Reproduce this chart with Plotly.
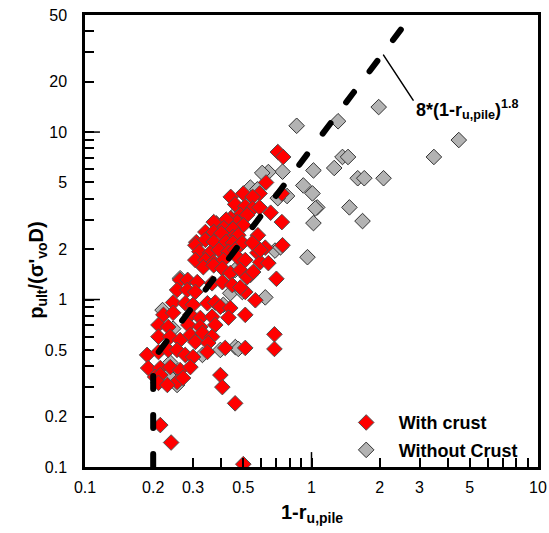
import plotly.graph_objects as go

# "With crust" points (1-r_u,pile , p_ult/(sigma'_vo D))
red_x = [0.71, 0.75, 0.63, 0.44, 0.50, 0.59, 0.55, 0.74,
         0.46, 0.51, 0.55, 0.59, 0.66, 0.74, 0.485, 0.52,
         0.44, 0.47, 0.38, 0.42, 0.37, 0.41, 0.50, 0.45,
         0.34, 0.37, 0.40, 0.58, 0.45, 0.475, 0.31, 0.34,
         0.37, 0.42, 0.45, 0.495, 0.625, 0.307, 0.32, 0.357,
         0.39, 0.43, 0.46, 0.307, 0.34, 0.37, 0.408, 0.577,
         0.594, 0.645, 0.475, 0.51, 0.333, 0.37, 0.404, 0.438,
         0.485, 0.537, 0.52, 0.263, 0.284, 0.313, 0.364, 0.404,
         0.447, 0.51, 0.255, 0.283, 0.307, 0.245, 0.277, 0.30,
         0.347, 0.376, 0.396, 0.438, 0.51, 0.43, 0.222, 0.245,
         0.292, 0.323, 0.364, 0.211, 0.233, 0.286, 0.323, 0.376,
         0.211, 0.238, 0.263, 0.292, 0.33, 0.364, 0.416, 0.51,
         0.307, 0.35, 0.188, 0.211, 0.233, 0.255, 0.277, 0.30,
         0.347, 0.19, 0.215, 0.238, 0.263, 0.292, 0.204, 0.215,
         0.255, 0.271, 0.211, 0.231, 0.396, 0.404, 0.46, 0.215,
         0.24, 0.50, 0.686, 0.686, 0.70, 0.745, 0.553, 0.565,
         0.485, 0.594, 0.548]
red_y = [7.6, 7.1, 5.0, 4.1, 4.3, 4.3, 4.1, 4.3,
         3.7, 3.6, 3.5, 3.55, 3.3, 2.9, 3.2, 3.2,
         3.05, 2.9, 2.85, 3.0, 2.9, 2.67, 2.78, 2.64,
         2.53, 2.53, 2.49, 2.42, 2.36, 2.42, 2.2, 2.27,
         2.21, 2.21, 2.18, 2.18, 2.04, 2.11, 1.93, 1.90,
         1.98, 1.93, 1.98, 1.72, 1.72, 1.67, 1.72, 1.90,
         1.67, 1.65, 1.77, 1.72, 1.56, 1.60, 1.53, 1.44,
         1.50, 1.40, 1.36, 1.31, 1.31, 1.27, 1.25, 1.27,
         1.22, 1.11, 1.14, 1.14, 1.11, 0.96, 0.95, 0.93,
         0.95, 0.96, 0.905, 0.89, 0.81, 0.78, 0.81, 0.833,
         0.81, 0.776, 0.79, 0.705, 0.686, 0.705, 0.686, 0.705,
         0.60, 0.60, 0.573, 0.615, 0.632, 0.60, 0.514, 0.514,
         0.558, 0.55, 0.467, 0.486, 0.50, 0.50, 0.467, 0.454,
         0.486, 0.39, 0.39, 0.395, 0.379, 0.395, 0.345, 0.354,
         0.322, 0.34, 0.318, 0.309, 0.354, 0.30, 0.24, 0.178,
         0.14, 0.104, 0.62, 0.507, 1.33, 2.11, 1.46, 0.99,
         1.18, 1.98, 2.18]

# "Without Crust" points
gray_x = [0.86, 1.31, 1.98, 1.37, 1.45, 1.02, 1.26, 1.60, 1.71, 2.08,
          0.92, 1.01, 1.06, 1.04, 1.47, 1.02, 1.68, 3.47, 4.47, 0.96,
          0.745, 0.645, 0.606, 0.78, 0.71, 0.537, 0.577, 0.47, 0.69, 0.73,
          0.438, 0.495, 0.408, 0.22, 0.245, 0.461, 0.475, 0.396, 0.33, 0.233,
          0.255, 0.625, 0.43, 0.46, 0.263, 0.238]
gray_y = [10.9, 11.6, 14.1, 7.1, 7.1, 5.9, 6.1, 5.3, 5.3, 5.3,
          4.8, 4.3, 3.55, 3.5, 3.55, 2.86, 2.94, 7.1, 8.96, 1.79,
          5.8, 5.77, 5.7, 4.15, 4.03, 4.66, 4.55, 3.33, 1.96, 2.05,
          1.09, 1.11, 0.93, 0.865, 0.67, 0.52, 0.507, 0.50, 0.467, 0.354,
          0.309, 1.03, 1.98, 1.5, 1.34, 0.42]

# fitted curve 8*(1-r_u,pile)^1.8, cut off at 0.2
curve_x = [0.2, 0.2, 3.0]
curve_y = [0.1, 0.44, 57.6]

# leader line for the curve label
leader_x = [2.08, 2.81]
leader_y = [28.8, 15.5]

x_tick_vals = [0.1, 0.2, 0.3, 0.5, 1, 2, 3, 5, 10]
x_tick_text = ['0.1', '0.2', '0.3', '0.5', '1', '2', '3', '5', '10']
x_minor_vals = [0.4, 0.6, 0.7, 0.8, 0.9, 4, 6, 7, 8, 9]
y_tick_vals = [0.1, 0.2, 0.5, 1, 2, 5, 10, 20, 50]
y_tick_text = ['0.1', '0.2', '0.5', '1', '2', '5', '10', '20', '50']
y_minor_vals = [0.3, 0.4, 0.6, 0.7, 0.8, 0.9, 3, 4, 6, 7, 8, 9, 30, 40]

FONT = 'Arial, Liberation Sans, sans-serif'

fig = go.Figure()

fig.add_trace(go.Scatter(x=gray_x, y=gray_y, mode='markers', name='<b>Without Crust</b>',
                         legendrank=2, legendgroup='nocrust',
                         marker=dict(symbol='diamond', size=12, color='#B3B3B3',
                                     line=dict(color='#333333', width=1))))
fig.add_trace(go.Scatter(x=red_x, y=red_y, mode='markers', name='<b>With crust</b>',
                         legendrank=1, legendgroup='crust',
                         marker=dict(symbol='diamond', size=12, color='#FF0000',
                                     line=dict(color='#505050', width=1))))
fig.add_trace(go.Scatter(x=curve_x, y=curve_y, mode='lines', showlegend=False,
                         line=dict(color='black', width=6, dash='13px,26px')))
fig.add_trace(go.Scatter(x=leader_x, y=leader_y, mode='lines', showlegend=False,
                         line=dict(color='black', width=1.5)))

axis_common = dict(type='log', showline=True, linecolor='black', linewidth=2.5, mirror=True,
                   ticks='inside', ticklen=9, tickwidth=1.5, tickcolor='black',
                   showgrid=False, zeroline=False, automargin=False,
                   tickfont=dict(family=FONT, size=16, color='black'))

fig.update_xaxes(range=[-1, 1], tickmode='array', tickvals=x_tick_vals, ticktext=x_tick_text,
                 ticklabelstandoff=4,
                 minor=dict(tickvals=x_minor_vals, ticks='inside', ticklen=9, tickwidth=1.5,
                            tickcolor='black', showgrid=False),
                 **axis_common)
fig.update_yaxes(range=[-1, 1.69897], tickmode='array', tickvals=y_tick_vals, ticktext=y_tick_text,
                 ticklabelstandoff=12,
                 minor=dict(tickvals=y_minor_vals, ticks='inside', ticklen=9, tickwidth=1.5,
                            tickcolor='black', showgrid=False),
                 **axis_common)

# longer ticks at the decades
long_ticks = [
    dict(type='line', xref='paper', yref='paper', x0=0.5, x1=0.5, y0=0, y1=0.033),
    dict(type='line', xref='paper', yref='paper', x0=0, x1=0.033, y0=0.3705, y1=0.3705),
    dict(type='line', xref='paper', yref='paper', x0=0, x1=0.033, y0=0.741, y1=0.741),
]
for s in long_ticks:
    s['line'] = dict(color='black', width=1.5)

fig.update_layout(
    width=549, height=533,
    margin=dict(l=85, r=11, t=15, b=66),
    paper_bgcolor='white', plot_bgcolor='white',
    font=dict(family=FONT, color='black'),
    shapes=long_ticks,
    showlegend=True,
    legend=dict(x=0.549, y=0.068, xanchor='left', yanchor='middle', tracegroupgap=1,
                bgcolor='rgba(0,0,0,0)', font=dict(family=FONT, size=18, color='black'),
                itemwidth=55),
    annotations=[
        dict(text='<b>8*(1-r<sub>u,pile</sub>)<sup>1.8</sup></b>', xref='paper', yref='paper',
             x=0.726, y=0.79, xanchor='left', yanchor='middle', showarrow=False,
             font=dict(family=FONT, size=18, color='black')),
        dict(text='<b>1-r<sub>u,pile</sub></b>', xref='paper', yref='paper',
             x=0.5, y=-0.103, xanchor='center', yanchor='middle', showarrow=False,
             font=dict(family=FONT, size=20, color='black')),
        dict(text="<b>p<sub>ult</sub>/(σ'<sub>vo</sub>D)</b>", xref='paper', yref='paper',
             x=-0.104, y=0.436, xanchor='center', yanchor='middle', showarrow=False,
             textangle=-90, font=dict(family=FONT, size=20, color='black')),
    ],
)

post = ("document.documentElement.style.overflow='hidden';"
        "document.body.style.margin='0';document.body.style.overflow='hidden';"
        "document.querySelectorAll('.scatterlayer .js-line').forEach(function(e){"
        "e.style.strokeLinecap='round';});")
fig.write_html("out.html", post_script=post, config={'displayModeBar': False})
